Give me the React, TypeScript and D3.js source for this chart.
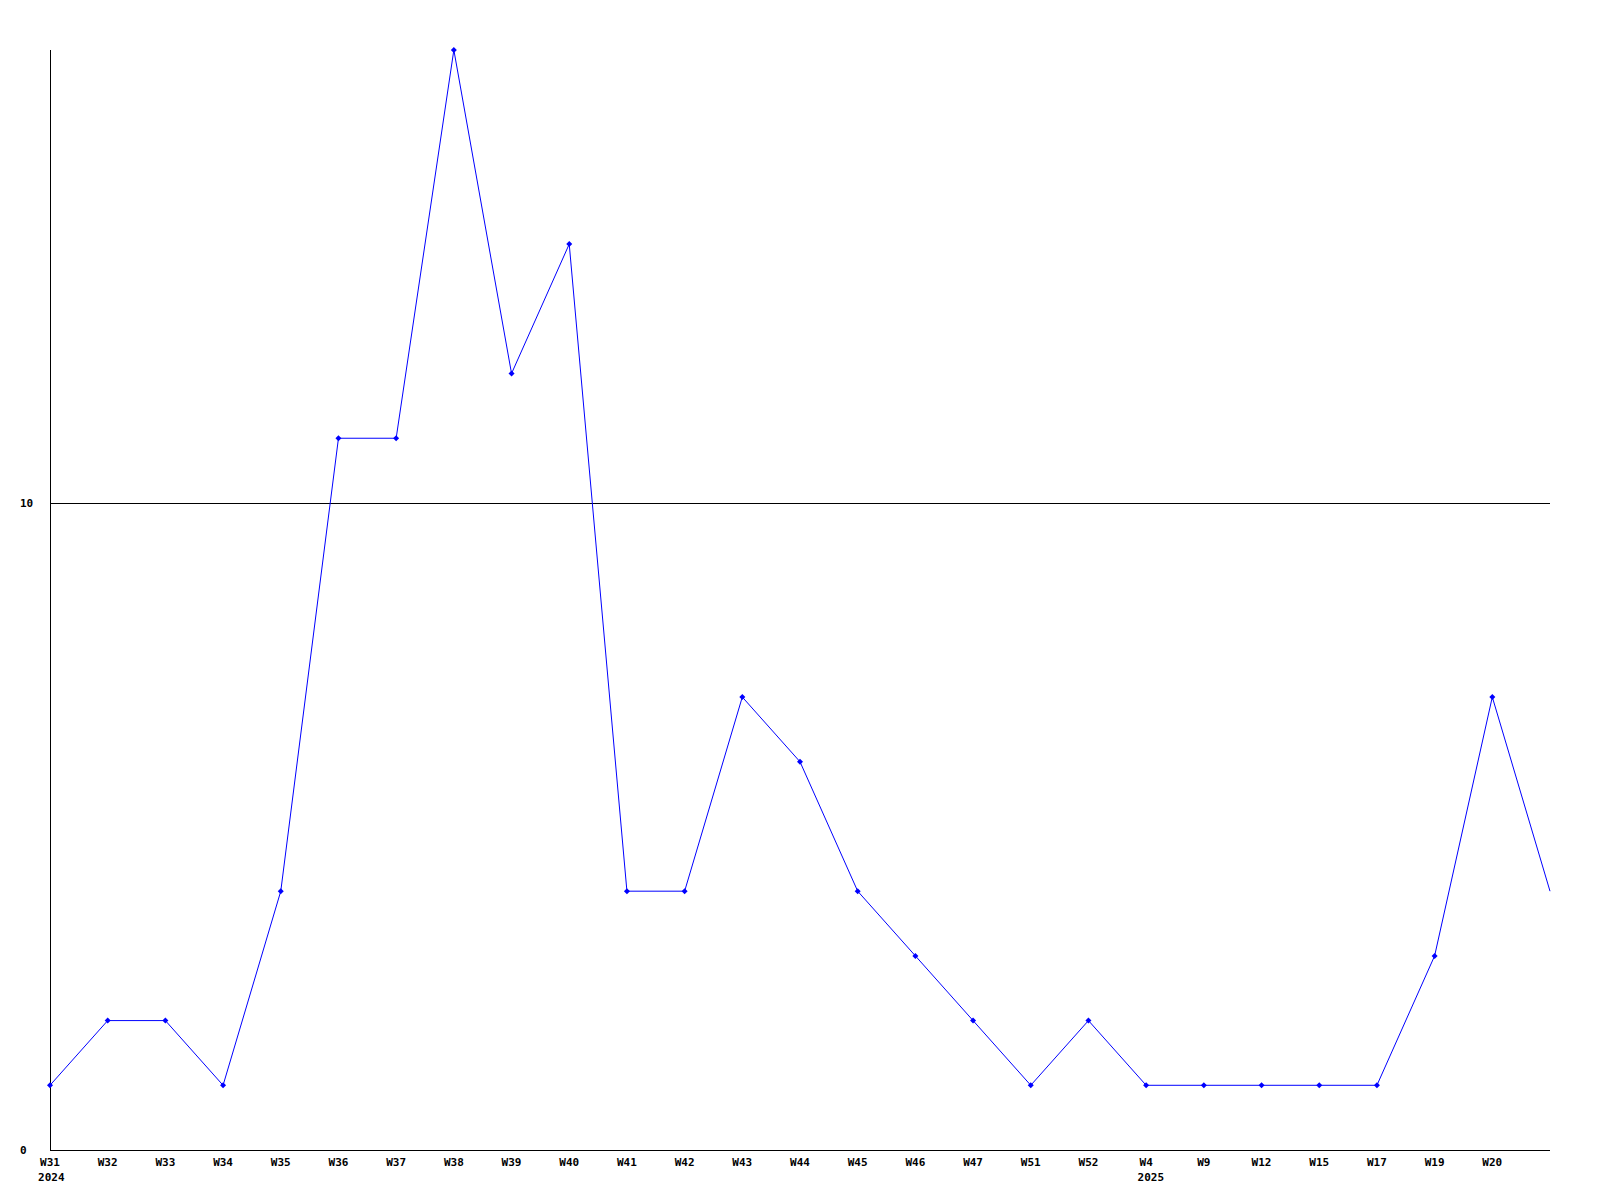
import React from "react";
import * as d3 from "d3";

const weekLabels = ["W31","W32","W33","W34","W35","W36","W37","W38","W39","W40","W41","W42","W43","W44","W45","W46","W47","W51","W52","W4","W9","W12","W15","W17","W19","W20",""];
const yearLabels = ["2024","","","","","","","","","","","","","","","","","","","2025","","","","","","",""];
const values = [1,2,2,1,4,11,11,17,12,14,4,4,7,6,4,3,2,1,2,1,1,1,1,1,3,7,4];
const yTicks = [0, 10];

export default function App() {
  const W = 1600, H = 1200;
  const left = 50, right = 1550, top = 50, bottom = 1150;
  const x = d3.scaleLinear().domain([0, values.length - 1]).range([left, right]);
  const y = d3.scaleLinear().domain([0, 17]).range([bottom, top]);
  const line = d3.line<number>().x((_, i) => x(i)).y(d => y(d));
  const font = "'DejaVu Sans Mono', monospace";
  const charW = 6.6;
  return (
    <svg width={W} height={H} style={{ position: "absolute", left: 0, top: 0, background: "#fff" }}>
      <rect width={W} height={H} fill="#fff" />
      {yTicks.filter(t => t > 0).map(t => (
        <line key={t} x1={left} x2={right} y1={Math.round(y(t)) + 0.5} y2={Math.round(y(t)) + 0.5} stroke="#000" strokeWidth={1} />
      ))}
      <line x1={left + 0.5} x2={left + 0.5} y1={top} y2={bottom + 0.5} stroke="#000" strokeWidth={1} />
      <line x1={left} x2={right} y1={bottom + 0.5} y2={bottom + 0.5} stroke="#000" strokeWidth={1} />
      {yTicks.map(t => (
        <text key={t} x={20} y={y(t) + 4} fontFamily={font} fontWeight="bold" fontSize={11} fill="#000">{t}</text>
      ))}
      {weekLabels.map((w, i) => w ? (
        <text key={"w" + i} x={x(i)} y={1166} textAnchor="middle" fontFamily={font} fontWeight="bold" fontSize={11} fill="#000">{w}</text>
      ) : null)}
      {yearLabels.map((yr, i) => yr ? (
        <text key={"y" + i} x={x(i) - (weekLabels[i].length * charW) / 2 - 2} y={1181} fontFamily={font} fontWeight="bold" fontSize={11} fill="#000">{yr}</text>
      ) : null)}
      <path d={line(values) || ""} fill="none" stroke="#0000ff" strokeWidth={1} />
      {values.slice(0, values.length - 1).map((v, i) => (
        <g key={"m" + i} transform={`translate(${x(i)},${y(v)})`}>
          <path d="M0,-3L3,0L0,3L-3,0Z" fill="#0000ff" />
        </g>
      ))}
    </svg>
  );
}
